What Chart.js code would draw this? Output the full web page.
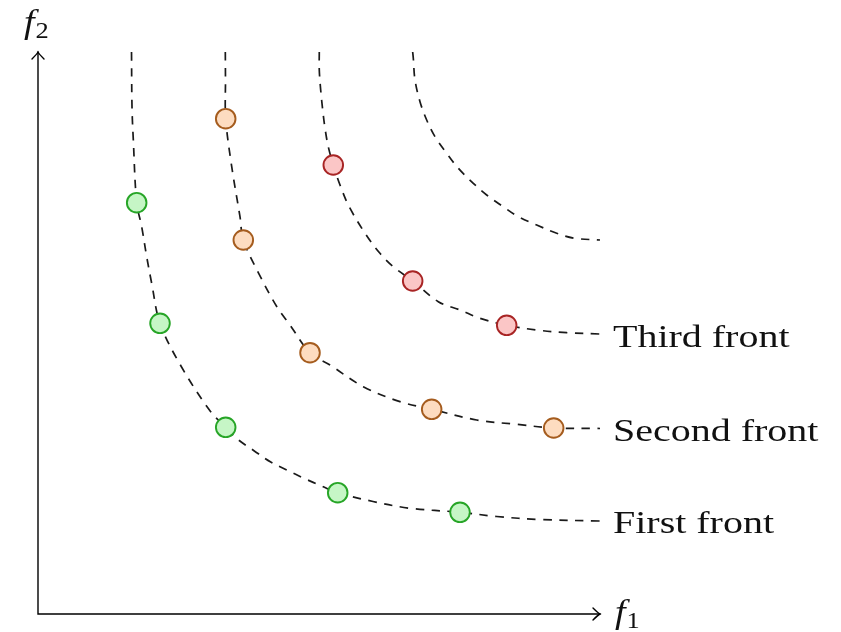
<!DOCTYPE html>
<html>
<head>
<meta charset="utf-8">
<script src="https://cdn.jsdelivr.net/npm/chart.js@4"></script>
<style>
  html, body { margin: 0; padding: 0; background: #fff; }
  #wrap { width: 841px; height: 632px; }
</style>
</head>
<body>
<div id="wrap"><canvas id="chart" width="841" height="632"></canvas></div>
<script>
// axis range (f1, f2 in arbitrary units)
const axisMax = 10;
const axisNames = ['f', 'f'];
const axisSubs = ['1', '2'];

const frontNames = ['First front', 'Second front', 'Third front'];

// solutions on each front, [f1, f2]
const firstFrontPts = [[1.756, 7.319], [2.171, 5.173], [3.340, 3.322], [5.333, 2.158], [7.509, 1.810]];
const secondFrontPts = [[3.340, 8.813], [3.653, 6.655], [4.840, 4.649], [7.005, 3.642], [9.176, 3.310]];
const thirdFrontPts = [[5.254, 7.989], [6.667, 5.925], [8.340, 5.137]];

// dashed front curves
const firstFrontLine = [[1.664, 10], [1.673, 9.004], [1.696, 8.434], [1.756, 7.319], [1.845, 6.891], [1.934, 6.358],
  [2.023, 5.884], [2.171, 5.173], [2.544, 4.413], [3.060, 3.617], [3.340, 3.322], [3.546, 3.114], [3.843, 2.906],
  [4.141, 2.705], [4.436, 2.557], [4.733, 2.415], [5.059, 2.272], [5.333, 2.158], [5.961, 2.002], [6.619, 1.881],
  [7.509, 1.810], [8.162, 1.735], [8.932, 1.681], [10, 1.655]];
const secondFrontLine = [[3.333, 10], [3.336, 9.502], [3.340, 8.813], [3.447, 7.959], [3.594, 7.069], [3.653, 6.655],
  [3.915, 6.085], [4.253, 5.463], [4.484, 5.142], [4.840, 4.649], [5.196, 4.431], [5.788, 4.045], [6.441, 3.778],
  [7.005, 3.642], [7.806, 3.452], [8.518, 3.375], [9.176, 3.310], [10, 3.301]];
const thirdFrontLine = [[5.005, 10], [5.005, 9.680], [5.030, 9.324], [5.066, 8.968], [5.107, 8.642], [5.165, 8.315],
  [5.254, 7.989], [5.374, 7.633], [5.536, 7.249], [5.836, 6.749], [6.085, 6.418], [6.322, 6.180], [6.667, 5.925],
  [7.123, 5.557], [7.509, 5.409], [7.865, 5.262], [8.340, 5.137], [8.874, 5.053], [9.407, 5.005], [10, 4.982]];
const fourthFrontLine = [[6.667, 10], [6.678, 9.888], [6.708, 9.502], [6.797, 9.116], [6.916, 8.790], [7.064, 8.493],
  [7.272, 8.198], [7.479, 7.931], [7.746, 7.664], [7.984, 7.456], [8.279, 7.247], [8.546, 7.069], [8.874, 6.922],
  [9.230, 6.774], [9.555, 6.685], [10, 6.655]];

const toXY = arr => arr.map(p => ({ x: p[0], y: p[1] }));

const markerStyles = [
  { fill: '#c6f6c6', edge: '#27a527' },
  { fill: '#fddcc0', edge: '#a55c1e' },
  { fill: '#fbc6c6', edge: '#a82424' }
];

function curveSet(arr) {
  return {
    type: 'line', data: toXY(arr), showLine: true, pointRadius: 0,
    borderColor: '#1a1a1a', borderWidth: 1.7, borderDash: [8.5, 7.5],
    tension: 0.35, fill: false, order: 2, clip: false
  };
}
function pointSet(arr, i) {
  return {
    type: 'scatter', data: toXY(arr), showLine: false,
    pointRadius: 9.8, pointHoverRadius: 9.8, pointBorderWidth: 1.9,
    pointBackgroundColor: markerStyles[i].fill, pointBorderColor: markerStyles[i].edge,
    order: 1
  };
}

const frontLines = [firstFrontLine, secondFrontLine, thirdFrontLine];

function serifText(ctx, txt, x, y, font, sx) {
  ctx.save();
  ctx.translate(x, y);
  ctx.scale(sx, 1);
  ctx.font = font;
  ctx.fillText(txt, 0, 0);
  const w = ctx.measureText(txt).width * sx;
  ctx.restore();
  return w;
}

function arrowHead(ctx, tx, ty, dx, dy) {
  // tikz style open arrow tip pointing along (dx, dy)
  const px = -dy, py = dx;
  const back = 7, side = 6;
  ctx.beginPath();
  ctx.moveTo(tx - dx * back + px * side, ty - dy * back + py * side);
  ctx.quadraticCurveTo(tx - dx * 2 + px * 1, ty - dy * 2 + py * 1, tx, ty);
  ctx.quadraticCurveTo(tx - dx * 2 - px * 1, ty - dy * 2 - py * 1, tx - dx * back - px * side, ty - dy * back - py * side);
  ctx.stroke();
}

const axesPlugin = {
  id: 'axes',
  afterDatasetsDraw(chart) {
    const { ctx, scales: { x, y } } = chart;
    const x0 = x.getPixelForValue(0), y0 = y.getPixelForValue(0);
    const x1 = x.getPixelForValue(axisMax), y1 = y.getPixelForValue(axisMax);
    ctx.save();
    ctx.strokeStyle = '#000';
    ctx.lineWidth = 1.4;
    ctx.lineCap = 'round';
    ctx.beginPath();
    ctx.moveTo(x0, y1);
    ctx.lineTo(x0, y0);
    ctx.lineTo(x1, y0);
    ctx.stroke();
    arrowHead(ctx, x1, y0, 1, 0);
    arrowHead(ctx, x0, y1, 0, -1);

    ctx.fillStyle = '#111';
    ctx.textBaseline = 'alphabetic';
    // f1 at the end of the horizontal axis
    let w = serifText(ctx, axisNames[0], x1 + 15, y0 + 9, 'italic 33px "Liberation Serif"', 1.15);
    serifText(ctx, axisSubs[0], x1 + 15 + w + 1, y0 + 14, '23px "Liberation Serif"', 1.15);
    // f2 above the vertical axis
    w = serifText(ctx, axisNames[1], x0 - 14, y1 - 19, 'italic 33px "Liberation Serif"', 1.15);
    serifText(ctx, axisSubs[1], x0 - 14 + w + 1, y1 - 14, '23px "Liberation Serif"', 1.15);

    // front names at the right end of each curve
    frontLines.forEach((line, i) => {
      const end = line[line.length - 1];
      const py = y.getPixelForValue(end[1]);
      serifText(ctx, frontNames[i], x1 + 13, py + 12.5, '32.5px "Liberation Serif"', 1.23);
    });
    ctx.restore();
  }
};

new Chart(document.getElementById('chart'), {
  type: 'scatter',
  data: {
    datasets: [
      pointSet(firstFrontPts, 0),
      pointSet(secondFrontPts, 1),
      pointSet(thirdFrontPts, 2),
      curveSet(firstFrontLine),
      curveSet(secondFrontLine),
      curveSet(thirdFrontLine),
      curveSet(fourthFrontLine)
    ]
  },
  options: {
    responsive: false,
    animation: false,
    layout: { padding: { left: 38, top: 52, right: 241, bottom: 18 } },
    scales: {
      x: { type: 'linear', min: 0, max: axisMax, display: false },
      y: { type: 'linear', min: 0, max: axisMax, display: false }
    },
    plugins: { legend: { display: false }, tooltip: { enabled: false } }
  },
  plugins: [axesPlugin]
});
</script>
</body>
</html>
